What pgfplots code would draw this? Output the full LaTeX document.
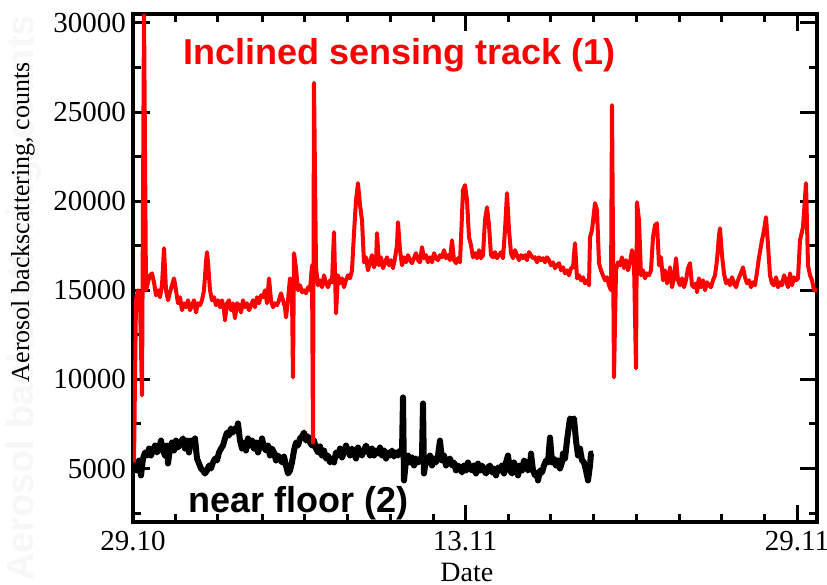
\documentclass[border=0pt]{standalone}
\usepackage{fontspec}
\setmainfont{Liberation Serif}
\setsansfont{Liberation Sans}
\usepackage{pgfplots}
\pgfplotsset{compat=1.18}

\begin{document}
\begin{tikzpicture}
% faint ghost of the axis title behind the real one
\node[rotate=90, text=black!3, font=\fontsize{19bp}{21bp}\sffamily\bfseries, inner sep=0]
  at (-54.5bp,112bp) {Aerosol backscattering, counts};

\begin{axis}[
    name=ax,
    scale only axis,
    width=342bp, height=254bp,
    xmin=0, xmax=684,
    ymin=2000, ymax=30500,
    axis line style={line width=1.6bp},
    tick style={black, line width=1.5bp},
    major tick length=8.5bp, minor tick length=4bp,
    tick align=inside,
    xtick pos=both, ytick pos=both,
    xticklabel pos=lower, yticklabel pos=left,
    xtick={0,332,664},
    xticklabels={29.10,13.11,29.11},
    minor xtick={43,85,129,171,214,257,300,375,417,460,503,546,588,631},
    ytick={5000,10000,15000,20000,25000,30000},
    minor ytick={2500,7500,12500,17500,22500,27500},
    scaled y ticks=false,
    /pgf/number format/assume math mode=true,
    /pgf/number format/1000 sep={},
    tick label style={font=\fontsize{14.5bp}{16bp}\selectfont},
    xticklabel style={yshift=-1bp},
    xlabel={Date},
    xlabel style={font=\fontsize{14bp}{16bp}\selectfont, inner sep=0pt,
        at={(axis description cs:0.488,-0.081)}, anchor=north},
    ylabel={Aerosol backscattering, counts},
    ylabel style={font=\fontsize{13bp}{15bp}\selectfont, inner sep=0pt,
        at={(axis description cs:-0.161,0.59)}, anchor=center},
]

% near floor (2)
\addplot[black, line width=3bp, line join=round] coordinates {
(2,5340) (4,4890) (6,5450) (8,4610) (10,5560) (12,5900) (14,5730) (16,6120)
(18,5730) (20,6010) (22,6290) (24,5900) (26,6120) (28,6570) (30,6010) (32,5730)
(34,6290) (35,5280) (37,6120) (39,6460) (41,6010) (43,6570) (45,6180) (47,6400)
(50,6690) (52,6120) (54,6570) (56,5900) (58,6570) (60,6290) (62,6690) (64,5560)
(66,5280) (68,5000) (70,4890) (72,4720) (74,4890) (76,5170) (78,5000) (80,5340)
(82,5560) (84,5450) (86,5900) (88,6120) (90,6290) (92,6690) (94,7020) (96,6850)
(98,7250) (100,7020) (102,7250) (104,7130) (105,7530) (107,6570) (109,6120) (111,6460)
(113,6010) (115,6690) (117,6290) (119,6570) (121,6120) (123,6460) (125,5900) (127,6240)
(129,6690) (131,6180) (133,6010) (135,6290) (137,5730) (139,6120) (141,5900) (143,5450)
(145,5730) (147,5560) (149,5340) (151,5670) (153,5170) (155,4720) (157,4890) (159,5340)
(161,6010) (163,6460) (165,6290) (167,6690) (169,6800) (171,7020) (173,6570) (175,6800)
(177,6460) (179,6290) (181,6570) (183,6120) (185,5900) (187,6240) (189,5730) (191,6010)
(193,5560) (195,5730) (197,5340) (199,5560) (201,5340) (203,5900) (205,5730) (207,6120)
(209,5620) (211,5900) (213,6290) (215,6010) (217,5730) (219,6120) (221,5900) (223,5560)
(225,6180) (227,5900) (229,5730) (231,6010) (233,6290) (235,6010) (237,5730) (239,6120)
(241,5730) (243,6010) (245,5840) (247,6180) (249,5730) (251,6010) (253,5560) (255,5900)
(257,5730) (259,6010) (261,5670) (263,5900) (265,5730) (267,6010) (269,5900) (270,8990)
(271,4330) (273,5450) (275,5730) (277,5340) (279,5620) (281,5170) (283,5560) (285,5340)
(287,5450) (289,5730) (290,8650) (291,4720) (293,5560) (295,5340) (297,5730) (299,5170)
(301,5560) (303,5340) (305,5730) (307,6570) (309,5450) (311,5730) (313,5170) (315,5450)
(317,5560) (319,5170) (321,5340) (323,4890) (325,5170) (327,5000) (329,4780) (331,5170)
(333,4890) (335,5340) (337,5000) (339,4890) (341,5170) (343,4720) (345,5280) (347,4890)
(349,5170) (351,4890) (353,4720) (355,5060) (357,5170) (359,4780) (361,5000) (363,4610)
(365,5060) (367,4890) (369,5170) (371,4720) (373,5340) (375,5730) (377,4890) (379,4720)
(381,5340) (383,5060) (385,4610) (387,5170) (389,4890) (391,5450) (393,5340) (395,4890)
(397,5060) (398,5840) (400,4890) (402,4610) (404,4780) (405,4330) (407,4890) (409,4780)
(411,5170) (413,5450) (415,5340) (417,6740) (419,5340) (421,5560) (423,5170) (425,5450)
(427,5000) (429,5340) (430,5840) (432,5560) (434,6570) (436,7420) (437,7810) (439,7700)
(441,7810) (443,6570) (445,5730) (447,6120) (449,5450) (451,5340) (453,4890) (455,4330)
(457,5170) (458,5840) (460,5840)
};

% inclined sensing track (1)
\addplot[red, line width=2bp, line join=round] coordinates {
(1,5340) (3,14440) (5,15000) (7,14440) (9,9100) (11,30730) (13,15000) (15,15450)
(17,15840) (19,15950) (21,15450) (23,14720) (25,15000) (27,14610) (29,15280) (31,17360)
(33,15000) (35,14440) (37,14890) (39,15280) (41,15670) (43,15000) (45,14270) (47,14610)
(49,13880) (51,14270) (53,14050) (55,14440) (57,13880) (59,14160) (61,14440) (63,13760)
(65,14270) (67,14160) (69,14440) (71,15000) (73,16570) (74,17140) (75,16570) (77,15000)
(79,14440) (81,14610) (83,14160) (85,14440) (87,14050) (89,14440) (91,13880) (92,13310)
(94,14270) (96,14440) (98,13880) (100,14270) (102,13430) (104,14270) (106,14160) (108,13760)
(110,14440) (112,14050) (114,14270) (116,13880) (118,14160) (120,14440) (122,14050) (124,14610)
(126,14270) (128,14720) (130,14610) (132,15000) (134,14270) (136,15670) (138,14440) (140,14050)
(142,14270) (144,14160) (146,14440) (148,14830) (150,14440) (152,14050) (153,13480) (155,14440)
(157,15670) (159,14720) (160,10110) (161,17080) (163,16240) (165,15000) (167,15280) (169,14890)
(171,15000) (173,14830) (175,15170) (177,15000) (179,16400) (180,6460) (181,26630) (183,16290)
(185,15280) (187,15560) (189,15170) (191,15840) (193,15390) (195,15170) (197,15560) (199,15450)
(201,18260) (203,13710) (205,15840) (207,15390) (209,15670) (211,15170) (213,15560) (215,15840)
(217,15670) (219,16120) (221,18200) (223,20060) (225,21010) (227,19780) (229,18930) (231,16570)
(233,16850) (235,16120) (237,16570) (239,16970) (241,16290) (243,16570) (244,18200) (246,16400)
(248,16850) (250,16240) (252,16570) (254,16850) (256,16400) (258,16690) (260,16240) (262,16800)
(264,17530) (265,18820) (267,17250) (269,16400) (271,16850) (273,16570) (275,16970) (277,16690)
(279,16520) (281,16800) (283,17080) (285,16690) (287,16570) (289,17420) (291,16800) (293,16970)
(295,16570) (297,16850) (299,16570) (301,17080) (303,16800) (305,16690) (307,16970) (309,16850)
(311,17250) (313,16800) (315,16970) (317,16690) (319,17810) (321,16690) (323,16520) (325,16800)
(327,16570) (329,19210) (330,20620) (332,20900) (334,20060) (336,17980) (338,17530) (340,16850)
(342,17080) (344,16800) (346,17250) (348,16800) (350,16970) (352,18930) (354,19660) (356,18650)
(358,16970) (360,16850) (362,17140) (364,16800) (366,16970) (368,17140) (370,16800) (372,18370)
(374,20450) (376,18370) (378,17080) (380,16800) (382,17250) (384,16970) (386,16690) (388,16970)
(390,16800) (392,16970) (394,16690) (396,17140) (398,16970) (400,16800) (402,16850) (404,16570)
(406,16850) (408,16690) (410,16800) (412,16570) (414,16850) (416,16690) (418,16400) (420,16570)
(422,16240) (424,16400) (426,16520) (428,16120) (430,16290) (432,15950) (434,16120) (436,15840)
(438,16240) (440,16290) (442,17640) (444,15670) (446,15840) (448,15560) (450,15730) (452,15390)
(454,15560) (456,15280) (457,17980) (459,18370) (462,19890) (464,19490) (466,16520) (468,16120)
(470,15840) (472,15560) (474,15730) (476,15280) (478,15000) (479,25390) (481,10110) (483,16120)
(485,16570) (487,16400) (489,16850) (491,16240) (493,16690) (495,16120) (497,16520) (499,17250)
(501,16570) (503,10620) (504,19940) (506,18930) (508,15840) (510,16120) (512,15670) (514,15950)
(516,15840) (518,16120) (520,17980) (522,18650) (524,18760) (526,16400) (528,16850) (530,15560)
(532,16120) (534,15390) (536,15730) (537,16290) (539,15170) (541,15670) (543,16800) (545,15560)
(547,15280) (549,15670) (551,15170) (553,15560) (555,16240) (557,16520) (559,15280) (561,15170)
(563,15390) (564,14890) (566,15670) (568,15170) (570,15560) (572,15000) (574,15450) (576,15280)
(578,15170) (580,15560) (582,15840) (584,16690) (586,18090) (587,18480) (589,16970) (591,15950)
(593,15390) (595,15560) (597,15280) (599,15730) (601,15390) (603,15170) (605,15560) (607,15840)
(609,16120) (610,16290) (612,15730) (614,15390) (616,15560) (618,15170) (620,15450) (622,15280)
(624,16010) (626,16850) (629,17810) (631,18370) (633,19100) (635,17530) (637,15840) (639,15390)
(641,15280) (643,15730) (645,15170) (647,15450) (649,15280) (651,15840) (653,15560) (655,15170)
(657,15950) (659,15280) (661,15730) (663,15560) (665,15670) (667,17810) (670,18540) (673,21010)
(675,16400) (677,15840) (679,15560) (681,15000) (684,15000)
};

\node[anchor=base west, inner sep=0, text=red, font=\fontsize{18bp}{20bp}\sffamily\bfseries]
  at (axis cs:50,27640) {Inclined sensing track (1)};
\node[anchor=base west, inner sep=0, text=black, font=\fontsize{18bp}{20bp}\sffamily\bfseries]
  at (axis cs:55,2530) {near floor (2)};
\end{axis}

\pgfresetboundingbox
\path[use as bounding box] (-66.5bp,-31.5bp) rectangle (347bp,261bp);
\end{tikzpicture}
\end{document}
